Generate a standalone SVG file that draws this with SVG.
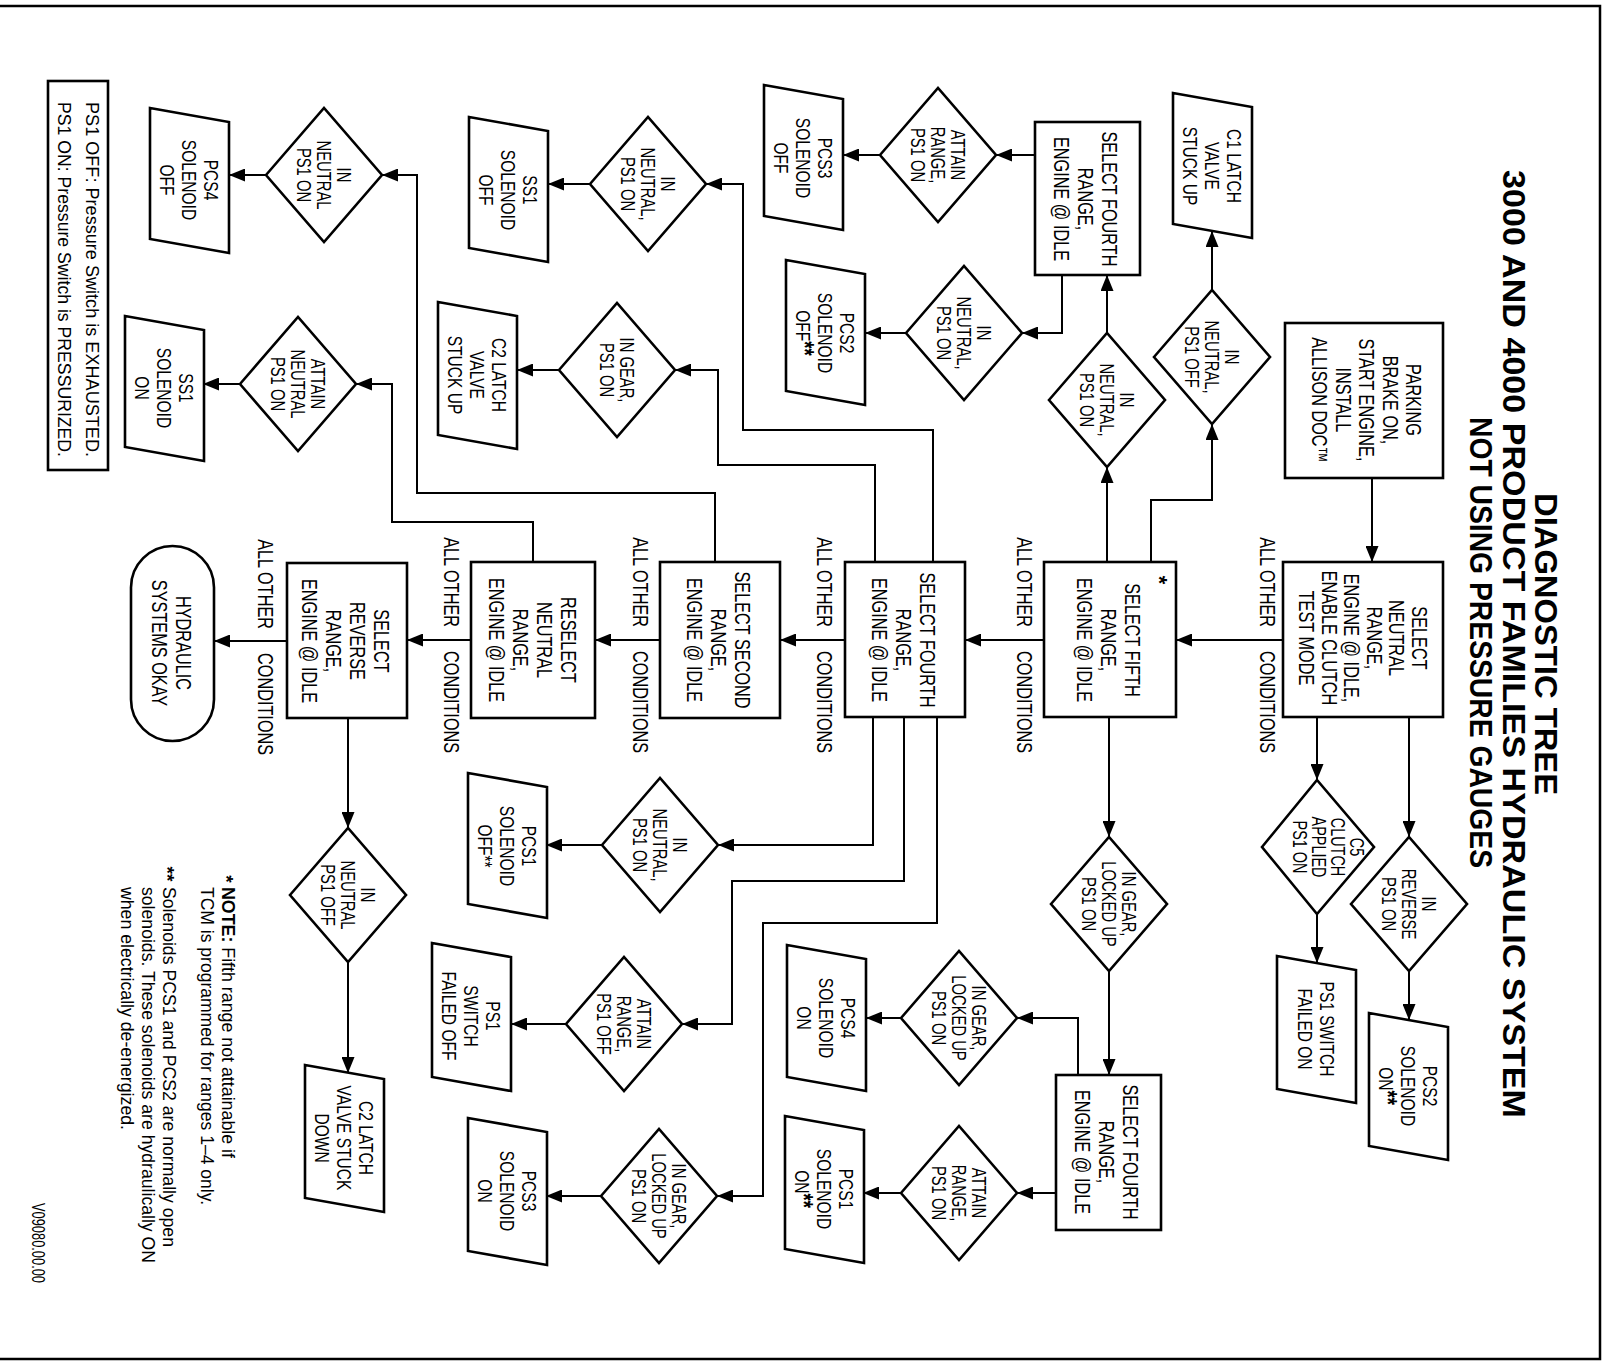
<svg xmlns="http://www.w3.org/2000/svg" width="1606" height="1362" viewBox="0 0 1606 1362">
<style>
.s{fill:#fff;stroke:#000;stroke-width:2.6}
.c{fill:none;stroke:#000;stroke-width:2}
.a{fill:none;stroke:#000;stroke-width:2;marker-end:url(#ar)}
.t{font-family:"Liberation Sans",Arial,sans-serif;font-size:22px;text-anchor:middle;fill:#000}
.d{font-size:20px}
.p{font-size:21px}
.l{font-family:"Liberation Sans",Arial,sans-serif;font-size:22px;fill:#000}
.f{font-family:"Liberation Sans",Arial,sans-serif;font-size:19px;fill:#000}
.h{font-family:"Liberation Sans",Arial,sans-serif;font-size:31px;font-weight:bold;text-anchor:middle;fill:#000}
.b{font-weight:bold;font-size:25px}
</style>
<defs>
<marker id="ar" viewBox="0 0 16 13" refX="16" refY="6.5" markerWidth="16" markerHeight="13" markerUnits="userSpaceOnUse" orient="auto"><path d="M0,0 L16,6.5 L0,13 Z" fill="#000"/></marker>
</defs>
<rect width="1606" height="1362" fill="#fff"/>
<path d="M0,6 H1600 V1359 H0" fill="none" stroke="#000" stroke-width="2.5"/>

<g id="title">
<text class="h" transform="translate(1535,644) rotate(90)" textLength="302" lengthAdjust="spacingAndGlyphs">DIAGNOSTIC  TREE</text>
<text class="h" transform="translate(1503,644) rotate(90)" textLength="948" lengthAdjust="spacingAndGlyphs">3000  AND  4000  PRODUCT  FAMILIES  HYDRAULIC  SYSTEM</text>
<text class="h" transform="translate(1470,642.5) rotate(90)" textLength="451" lengthAdjust="spacingAndGlyphs">NOT  USING  PRESSURE  GAUGES</text>
</g>

<g id="connectors">
<path class="a" d="M1283,640 H1176"/>
<path class="a" d="M1044,640 H965"/>
<path class="a" d="M845,640 H780"/>
<path class="a" d="M660,640 H595"/>
<path class="a" d="M471,640 H407"/>
<path class="a" d="M287,641 H214"/>
<path class="a" d="M1372,478 V562"/>
<path class="a" d="M1317,717 V780"/>
<path class="a" d="M1409,717 V837"/>
<path class="a" d="M1317,914 V963"/>
<path class="a" d="M1409,971 V1020"/>
<path class="a" d="M1107,562 V467"/>
<path class="a" d="M1151,562 V500 H1212 V424"/>
<path class="a" d="M1212,290 V231"/>
<path class="a" d="M1107,333 V275"/>
<path class="a" d="M1035,155 H996"/>
<path class="a" d="M880,155 H843"/>
<path class="a" d="M1062,275 V333 H1022"/>
<path class="a" d="M906,333 H865"/>
<path class="a" d="M1109,717 V837"/>
<path class="a" d="M1109,971 V1075"/>
<path class="a" d="M1078,1075 V1018 H1017"/>
<path class="a" d="M901,1018 H866"/>
<path class="a" d="M1056,1193 H1017"/>
<path class="a" d="M901,1193 H863"/>
<path class="a" d="M933,562 V430 H743 V184 H706"/>
<path class="a" d="M875,562 V465 H718 V370 H675"/>
<path class="a" d="M715,562 V493 H417 V175 H382"/>
<path class="a" d="M533,562 V522 H392 V384 H356"/>
<path class="a" d="M266,175 H229"/>
<path class="a" d="M240,384 H203"/>
<path class="a" d="M590,184 H548"/>
<path class="a" d="M559,370 H517"/>
<path class="a" d="M873,717 V845 H718"/>
<path class="a" d="M904,717 V881 H732 V1024 H682"/>
<path class="a" d="M937,717 V923 H763 V1196 H717"/>
<path class="a" d="M602,845 H546"/>
<path class="a" d="M566,1024 H511"/>
<path class="a" d="M601,1196 H546"/>
<path class="a" d="M348,718 V828"/>
<path class="a" d="M348,962 V1073"/>
</g>

<g id="labels">
<text class="l" text-anchor="end" transform="translate(1260,627) rotate(90) scale(.74,1)">ALL OTHER</text>
<text class="l" transform="translate(1260,651) rotate(90) scale(.74,1)">CONDITIONS</text>
<text class="l" text-anchor="end" transform="translate(1017,627) rotate(90) scale(.74,1)">ALL OTHER</text>
<text class="l" transform="translate(1017,651) rotate(90) scale(.74,1)">CONDITIONS</text>
<text class="l" text-anchor="end" transform="translate(817,627) rotate(90) scale(.74,1)">ALL OTHER</text>
<text class="l" transform="translate(817,651) rotate(90) scale(.74,1)">CONDITIONS</text>
<text class="l" text-anchor="end" transform="translate(633,627) rotate(90) scale(.74,1)">ALL OTHER</text>
<text class="l" transform="translate(633,651) rotate(90) scale(.74,1)">CONDITIONS</text>
<text class="l" text-anchor="end" transform="translate(444,627) rotate(90) scale(.74,1)">ALL OTHER</text>
<text class="l" transform="translate(444,651) rotate(90) scale(.74,1)">CONDITIONS</text>
<text class="l" text-anchor="end" transform="translate(258,629) rotate(90) scale(.74,1)">ALL OTHER</text>
<text class="l" transform="translate(258,653) rotate(90) scale(.74,1)">CONDITIONS</text>
</g>

<g id="n-parking"><rect class="s" x="1285" y="323" width="158" height="155"/>
<text class="t" transform="translate(1406,400) rotate(90) scale(.74,1)"><tspan x="0" y="0">PARKING</tspan><tspan x="0" y="23.5">BRAKE ON,</tspan><tspan x="0" y="47">START ENGINE,</tspan><tspan x="0" y="70.5">INSTALL</tspan><tspan x="0" y="94">ALLISON DOC™</tspan></text></g>

<g id="n-neutral"><rect class="s" x="1283" y="562" width="160" height="155"/>
<text class="t" transform="translate(1412,638) rotate(90) scale(.74,1)"><tspan x="0" y="0">SELECT</tspan><tspan x="0" y="22.6">NEUTRAL</tspan><tspan x="0" y="45.2">RANGE,</tspan><tspan x="0" y="67.8">ENGINE @ IDLE,</tspan><tspan x="0" y="90.4">ENABLE CLUTCH</tspan><tspan x="0" y="113">TEST MODE</tspan></text></g>

<g id="n-fifth"><rect class="s" x="1044" y="562" width="132" height="155"/>
<text class="t" transform="translate(1125,640) rotate(90) scale(.74,1)"><tspan x="0" y="0">SELECT FIFTH</tspan><tspan x="0" y="24">RANGE,</tspan><tspan x="0" y="48">ENGINE @ IDLE</tspan></text>
<text class="t" font-weight="bold" font-size="26" transform="translate(1152,580) rotate(90)">*</text></g>

<g id="n-fourth-mid"><rect class="s" x="845" y="562" width="120" height="155"/>
<text class="t" transform="translate(920,640) rotate(90) scale(.74,1)"><tspan x="0" y="0">SELECT FOURTH</tspan><tspan x="0" y="24">RANGE,</tspan><tspan x="0" y="48">ENGINE @ IDLE</tspan></text></g>

<g id="n-second"><rect class="s" x="660" y="562" width="120" height="156"/>
<text class="t" transform="translate(735,640) rotate(90) scale(.74,1)"><tspan x="0" y="0">SELECT SECOND</tspan><tspan x="0" y="24">RANGE,</tspan><tspan x="0" y="48">ENGINE @ IDLE</tspan></text></g>

<g id="n-reselect"><rect class="s" x="471" y="562" width="124" height="156"/>
<text class="t" transform="translate(561,640) rotate(90) scale(.74,1)"><tspan x="0" y="0">RESELECT</tspan><tspan x="0" y="24">NEUTRAL</tspan><tspan x="0" y="48">RANGE,</tspan><tspan x="0" y="72">ENGINE @ IDLE</tspan></text></g>

<g id="n-reverse"><rect class="s" x="287" y="563" width="120" height="155"/>
<text class="t" transform="translate(374,641) rotate(90) scale(.74,1)"><tspan x="0" y="0">SELECT</tspan><tspan x="0" y="24">REVERSE</tspan><tspan x="0" y="48">RANGE,</tspan><tspan x="0" y="72">ENGINE @ IDLE</tspan></text></g>

<g id="n-fourth-top"><rect class="s" x="1035" y="122" width="105" height="153"/>
<text class="t" transform="translate(1102,199) rotate(90) scale(.74,1)"><tspan x="0" y="0">SELECT FOURTH</tspan><tspan x="0" y="24">RANGE,</tspan><tspan x="0" y="48">ENGINE @ IDLE</tspan></text></g>

<g id="n-fourth-low"><rect class="s" x="1056" y="1075" width="105" height="155"/>
<text class="t" transform="translate(1123,1152) rotate(90) scale(.74,1)"><tspan x="0" y="0">SELECT FOURTH</tspan><tspan x="0" y="24">RANGE,</tspan><tspan x="0" y="48">ENGINE @ IDLE</tspan></text></g>

<g id="n-okay"><rect class="s" x="131" y="546" width="83" height="195" rx="41.5" ry="41.5"/>
<text class="t" transform="translate(176,643) rotate(90) scale(.74,1)"><tspan x="0" y="0">HYDRAULIC</tspan><tspan x="0" y="24">SYSTEMS OKAY</tspan></text></g>

<g id="d1"><polygon class="s" points="266,175 324,108 382,175 324,242"/>
<text class="t d" transform="translate(337,175) rotate(90) scale(.74,1)"><tspan x="0" y="0">IN</tspan><tspan x="0" y="20">NEUTRAL</tspan><tspan x="0" y="40">PS1 ON</tspan></text></g>
<g id="d2"><polygon class="s" points="240,384 298,317 356,384 298,451"/>
<text class="t d" transform="translate(311,384) rotate(90) scale(.74,1)"><tspan x="0" y="0">ATTAIN</tspan><tspan x="0" y="20">NEUTRAL</tspan><tspan x="0" y="40">PS1 ON</tspan></text></g>
<g id="d3"><polygon class="s" points="590,184 648,117 706,184 648,251"/>
<text class="t d" transform="translate(661,184) rotate(90) scale(.74,1)"><tspan x="0" y="0">IN</tspan><tspan x="0" y="20">NEUTRAL,</tspan><tspan x="0" y="40">PS1 ON</tspan></text></g>
<g id="d4"><polygon class="s" points="559,370 617,303 675,370 617,437"/>
<text class="t d" transform="translate(620,370) rotate(90) scale(.74,1)"><tspan x="0" y="0">IN GEAR,</tspan><tspan x="0" y="20">PS1 ON</tspan></text></g>
<g id="d5"><polygon class="s" points="880,155 938,88 996,155 938,222"/>
<text class="t d" transform="translate(951,155) rotate(90) scale(.74,1)"><tspan x="0" y="0">ATTAIN</tspan><tspan x="0" y="20">RANGE,</tspan><tspan x="0" y="40">PS1 ON</tspan></text></g>
<g id="d6"><polygon class="s" points="906,333 964,266 1022,333 964,400"/>
<text class="t d" transform="translate(977,333) rotate(90) scale(.74,1)"><tspan x="0" y="0">IN</tspan><tspan x="0" y="20">NEUTRAL,</tspan><tspan x="0" y="40">PS1 ON</tspan></text></g>
<g id="d7"><polygon class="s" points="1049,400 1107,333 1165,400 1107,467"/>
<text class="t d" transform="translate(1120,400) rotate(90) scale(.74,1)"><tspan x="0" y="0">IN</tspan><tspan x="0" y="20">NEUTRAL,</tspan><tspan x="0" y="40">PS1 ON</tspan></text></g>
<g id="d8"><polygon class="s" points="1154,357 1212,290 1270,357 1212,424"/>
<text class="t d" transform="translate(1225,357) rotate(90) scale(.74,1)"><tspan x="0" y="0">IN</tspan><tspan x="0" y="20">NEUTRAL,</tspan><tspan x="0" y="40">PS1 OFF</tspan></text></g>
<g id="d9"><polygon class="s" points="1351,904 1409,837 1467,904 1409,971"/>
<text class="t d" transform="translate(1422,904) rotate(90) scale(.74,1)"><tspan x="0" y="0">IN</tspan><tspan x="0" y="20">REVERSE</tspan><tspan x="0" y="40">PS1 ON</tspan></text></g>
<g id="d10"><polygon class="s" points="1262,847 1317,780 1374,847 1317,914"/>
<text class="t d" transform="translate(1350,847) rotate(90) scale(.72,1)"><tspan x="0" y="0">C5</tspan><tspan x="0" y="19">CLUTCH</tspan><tspan x="0" y="38">APPLIED</tspan><tspan x="0" y="57">PS1 ON</tspan></text></g>
<g id="d11"><polygon class="s" points="1051,904 1109,837 1167,904 1109,971"/>
<text class="t d" transform="translate(1122,904) rotate(90) scale(.74,1)"><tspan x="0" y="0">IN GEAR,</tspan><tspan x="0" y="20">LOCKED UP</tspan><tspan x="0" y="40">PS1 ON</tspan></text></g>
<g id="d12"><polygon class="s" points="901,1018 959,951 1017,1018 959,1085"/>
<text class="t d" transform="translate(972,1018) rotate(90) scale(.74,1)"><tspan x="0" y="0">IN GEAR,</tspan><tspan x="0" y="20">LOCKED UP</tspan><tspan x="0" y="40">PS1 ON</tspan></text></g>
<g id="d13"><polygon class="s" points="901,1193 959,1126 1017,1193 959,1260"/>
<text class="t d" transform="translate(972,1193) rotate(90) scale(.74,1)"><tspan x="0" y="0">ATTAIN</tspan><tspan x="0" y="20">RANGE,</tspan><tspan x="0" y="40">PS1 ON</tspan></text></g>
<g id="d14"><polygon class="s" points="566,1024 624,957 682,1024 624,1091"/>
<text class="t d" transform="translate(637,1024) rotate(90) scale(.74,1)"><tspan x="0" y="0">ATTAIN</tspan><tspan x="0" y="20">RANGE,</tspan><tspan x="0" y="40">PS1 OFF</tspan></text></g>
<g id="d15"><polygon class="s" points="601,1196 659,1129 717,1196 659,1263"/>
<text class="t d" transform="translate(672,1196) rotate(90) scale(.74,1)"><tspan x="0" y="0">IN GEAR,</tspan><tspan x="0" y="20">LOCKED UP</tspan><tspan x="0" y="40">PS1 ON</tspan></text></g>
<g id="d16"><polygon class="s" points="602,845 660,778 718,845 660,912"/>
<text class="t d" transform="translate(673,845) rotate(90) scale(.74,1)"><tspan x="0" y="0">IN</tspan><tspan x="0" y="20">NEUTRAL,</tspan><tspan x="0" y="40">PS1 ON</tspan></text></g>
<g id="d17"><polygon class="s" points="290,895 348,828 406,895 348,962"/>
<text class="t d" transform="translate(361,895) rotate(90) scale(.74,1)"><tspan x="0" y="0">IN</tspan><tspan x="0" y="20">NEUTRAL</tspan><tspan x="0" y="40">PS1 OFF</tspan></text></g>

<g id="p1"><path class="s" d="M150,108 L229,122 L229,253 L150,239 Z"/>
<text class="t p" transform="translate(204,180) rotate(90) scale(.74,1)"><tspan x="0" y="0">PCS4</tspan><tspan x="0" y="22">SOLENOID</tspan><tspan x="0" y="44">OFF</tspan></text></g>
<g id="p2"><path class="s" d="M125,316 L204,330 L204,461 L125,447 Z"/>
<text class="t p" transform="translate(179,388) rotate(90) scale(.74,1)"><tspan x="0" y="0">SS1</tspan><tspan x="0" y="22">SOLENOID</tspan><tspan x="0" y="44">ON</tspan></text></g>
<g id="p3"><path class="s" d="M469,117 L548,131 L548,262 L469,248 Z"/>
<text class="t p" transform="translate(523,190) rotate(90) scale(.74,1)"><tspan x="0" y="0">SS1</tspan><tspan x="0" y="22">SOLENOID</tspan><tspan x="0" y="44">OFF</tspan></text></g>
<g id="p4"><path class="s" d="M438,302 L517,316 L517,449 L438,435 Z"/>
<text class="t p" transform="translate(492,375) rotate(90) scale(.74,1)"><tspan x="0" y="0">C2 LATCH</tspan><tspan x="0" y="22">VALVE</tspan><tspan x="0" y="44">STUCK UP</tspan></text></g>
<g id="p5"><path class="s" d="M764,85 L843,99 L843,230 L764,216 Z"/>
<text class="t p" transform="translate(818,158) rotate(90) scale(.74,1)"><tspan x="0" y="0">PCS3</tspan><tspan x="0" y="22">SOLENOID</tspan><tspan x="0" y="44">OFF</tspan></text></g>
<g id="p6"><path class="s" d="M786,260 L865,274 L865,405 L786,391 Z"/>
<text class="t p" transform="translate(840,333) rotate(90) scale(.74,1)"><tspan x="0" y="0">PCS2</tspan><tspan x="0" y="22">SOLENOID</tspan><tspan x="0" y="44">OFF<tspan font-weight="bold" font-size="25">**</tspan></tspan></text></g>
<g id="p7"><path class="s" d="M1173,93 L1252,107 L1252,238 L1173,224 Z"/>
<text class="t p" transform="translate(1227,166) rotate(90) scale(.74,1)"><tspan x="0" y="0">C1 LATCH</tspan><tspan x="0" y="22">VALVE</tspan><tspan x="0" y="44">STUCK UP</tspan></text></g>
<g id="p8"><path class="s" d="M468,773 L547,787 L547,918 L468,904 Z"/>
<text class="t p" transform="translate(522,846) rotate(90) scale(.74,1)"><tspan x="0" y="0">PCS1</tspan><tspan x="0" y="22">SOLENOID</tspan><tspan x="0" y="44">OFF**</tspan></text></g>
<g id="p9"><path class="s" d="M432,943 L511,957 L511,1091 L432,1077 Z"/>
<text class="t p" transform="translate(486,1016) rotate(90) scale(.74,1)"><tspan x="0" y="0">PS1</tspan><tspan x="0" y="22">SWITCH</tspan><tspan x="0" y="44">FAILED OFF</tspan></text></g>
<g id="p10"><path class="s" d="M468,1118 L547,1132 L547,1265 L468,1251 Z"/>
<text class="t p" transform="translate(522,1191) rotate(90) scale(.74,1)"><tspan x="0" y="0">PCS3</tspan><tspan x="0" y="22">SOLENOID</tspan><tspan x="0" y="44">ON</tspan></text></g>
<g id="p11"><path class="s" d="M787,945 L866,959 L866,1091 L787,1077 Z"/>
<text class="t p" transform="translate(841,1018) rotate(90) scale(.74,1)"><tspan x="0" y="0">PCS4</tspan><tspan x="0" y="22">SOLENOID</tspan><tspan x="0" y="44">ON</tspan></text></g>
<g id="p12"><path class="s" d="M785,1116 L864,1130 L864,1263 L785,1249 Z"/>
<text class="t p" transform="translate(839,1189) rotate(90) scale(.74,1)"><tspan x="0" y="0">PCS1</tspan><tspan x="0" y="22">SOLENOID</tspan><tspan x="0" y="44">ON<tspan font-weight="bold" font-size="25">**</tspan></tspan></text></g>
<g id="p13"><path class="s" d="M305,1065 L384,1079 L384,1212 L305,1198 Z"/>
<text class="t p" transform="translate(359,1138) rotate(90) scale(.74,1)"><tspan x="0" y="0">C2 LATCH</tspan><tspan x="0" y="22">VALVE STUCK</tspan><tspan x="0" y="44">DOWN</tspan></text></g>
<g id="p14"><path class="s" d="M1277,956 L1356,970 L1356,1103 L1277,1089 Z"/>
<text class="t p" transform="translate(1320,1029) rotate(90) scale(.74,1)"><tspan x="0" y="0">PS1 SWITCH</tspan><tspan x="0" y="22">FAILED ON</tspan></text></g>
<g id="p15"><path class="s" d="M1369,1013 L1448,1027 L1448,1160 L1369,1146 Z"/>
<text class="t p" transform="translate(1423,1086) rotate(90) scale(.74,1)"><tspan x="0" y="0">PCS2</tspan><tspan x="0" y="22">SOLENOID</tspan><tspan x="0" y="44">ON<tspan font-weight="bold" font-size="25">**</tspan></tspan></text></g>

<g id="legend"><rect x="48" y="81" width="60" height="389" fill="#fff" stroke="#000" stroke-width="2.6"/>
<text class="f" font-size="22" transform="translate(86,102) rotate(90)" textLength="355" lengthAdjust="spacingAndGlyphs">PS1 OFF:  Pressure Switch is EXHAUSTED.</text>
<text class="f" font-size="22" transform="translate(58,102) rotate(90)" textLength="355" lengthAdjust="spacingAndGlyphs">PS1 ON:  Pressure Switch is PRESSURIZED.</text>
</g>

<g id="notes">
<text class="f" font-weight="bold" font-size="26" text-anchor="middle" transform="translate(220,879) rotate(90)">*</text>
<text class="f" transform="translate(222,887) rotate(90)" textLength="271" lengthAdjust="spacingAndGlyphs"><tspan font-weight="bold">NOTE:</tspan> Fifth range not attainable if</text>
<text class="f" transform="translate(201,887) rotate(90)" textLength="318" lengthAdjust="spacingAndGlyphs">TCM is programmed for ranges 1–4 only.</text>
<text class="f" font-weight="bold" font-size="26" text-anchor="middle" transform="translate(161,874) rotate(90)">**</text>
<text class="f" transform="translate(163,887) rotate(90)" textLength="360" lengthAdjust="spacingAndGlyphs">Solenoids PCS1 and PCS2 are normally open</text>
<text class="f" transform="translate(142,887) rotate(90)" textLength="376" lengthAdjust="spacingAndGlyphs">solenoids. These solenoids are hydraulically ON</text>
<text class="f" transform="translate(121,887) rotate(90)" textLength="243" lengthAdjust="spacingAndGlyphs">when electrically de-energized.</text>
<text class="f" font-size="14" transform="translate(32,1203) rotate(90)" textLength="80" lengthAdjust="spacingAndGlyphs">V09080.00.00</text>
</g>
</svg>
